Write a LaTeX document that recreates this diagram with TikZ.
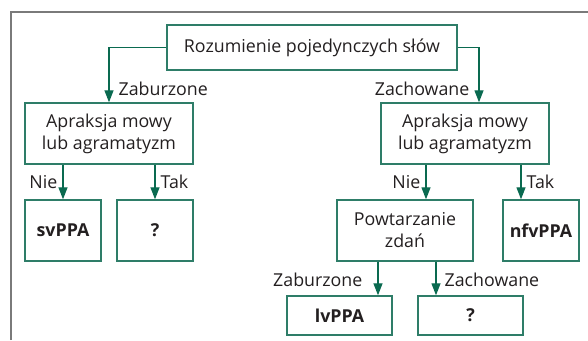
\documentclass[tikz,border=0pt]{standalone}
\usepackage{fontspec}
\setmainfont{Open Sans}
\usepackage{tikz}
\usetikzlibrary{arrows.meta, positioning}

\definecolor{boxgreen}{HTML}{2E7D68}
\definecolor{arrgreen}{HTML}{0A6A50}
\definecolor{txtgray}{HTML}{231F20}
\definecolor{framegray}{HTML}{7A7A7A}

\begin{document}
\begin{tikzpicture}[x=1pt, y=-1pt,
        font=\fontsize{17.8}{22}\selectfont, text=txtgray,
        box/.style={draw=boxgreen, line width=1.4pt, align=center, inner sep=0pt},
        wide/.style={box, minimum width=168pt, minimum height=61pt},
        small/.style={box, minimum width=76pt, minimum height=61pt},
        flat/.style={box, minimum width=105pt, minimum height=39pt},
        arr/.style={draw=arrgreen, line width=1.3pt, -{Triangle[length=12pt, width=9pt]}},
        lbl/.style={inner sep=5pt}]
        \useasboundingbox (0,0) rectangle (588,340);
        \draw[framegray, line width=1.3pt] (11,340) -- (11,12) -- (588,12);

        \node[box, minimum width=290pt, minimum height=45pt] (top) at (312,47.5) {Rozumienie pojedynczych słów};
        \node[wide]  (apr1)  at (109,133.5) {Apraksja mowy\\lub agramatyzm};
        \node[wide]  (apr2)  at (465,133.5) {Apraksja mowy\\lub agramatyzm};
        \node[small] (svppa) at (63,230.5)  {\textbf{svPPA}};
        \node[small] (q1)    at (155,230.5) {\textbf{?}};
        \node[box, minimum width=136pt, minimum height=61pt] (powt) at (405,230.5) {Powtarzanie\\zdań};
        \node[small] (nfv)   at (541,230.5) {\textbf{nfvPPA}};
        \node[flat]  (lvppa) at (339.5,315.5) {\textbf{lvPPA}};
        \node[flat]  (q2)    at (470.5,315.5) {\textbf{?}};

        % first split
        \draw[arr] (top.west) -| node[lbl, right, pos=0.88, inner xsep=9pt] {Zaburzone} (apr1.north);
        \draw[arr] (top.east) -| node[lbl, left, pos=0.88, inner xsep=9pt] {Zachowane} ([xshift=14pt]apr2.north);

        % left branch
        \draw[arr] (apr1.south -| svppa.north) -- node[lbl, left] {Nie} (svppa.north);
        \draw[arr] (apr1.south -| q1.north) -- node[lbl, right] {Tak} (q1.north);

        % right branch
        \draw[arr] ([xshift=21pt]powt.north |- apr2.south) -- node[lbl, left] {Nie} ([xshift=21pt]powt.north);
        \draw[arr] ([xshift=-20pt]nfv.north |- apr2.south) -- node[lbl, right] {Tak} ([xshift=-20pt]nfv.north);

        % repetition
        \draw[arr] ([xshift=-27pt]powt.south) -- node[lbl, left, pos=0.55, inner xsep=15pt] {Zaburzone} ([xshift=-27pt]powt.south |- lvppa.north);
        \draw[arr] ([xshift=31pt]powt.south) -- node[lbl, right, pos=0.55, inner xsep=8pt] {Zachowane} ([xshift=31pt]powt.south |- q2.north);
\end{tikzpicture}
\end{document}
